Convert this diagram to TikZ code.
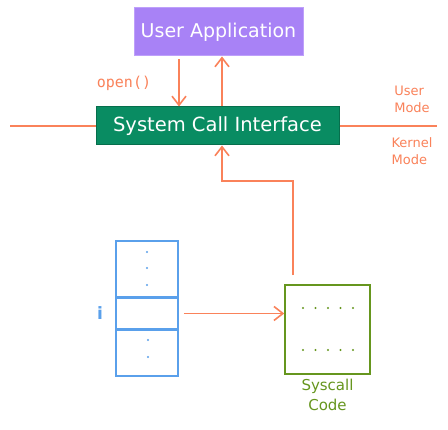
\documentclass[tikz,border=0pt]{standalone}
\usepackage{fontspec}
\setmainfont{DejaVu Sans}
\newfontfamily\codefont{DejaVu Sans Mono}
\usepackage{tikz}
\usetikzlibrary{
  arrows.meta,%
  calc,%
  positioning
}
\definecolor{wireorange}{RGB}{250,130,90}
\definecolor{apppurple}{RGB}{168,130,246}
\definecolor{appedge}{RGB}{190,160,250}
\definecolor{scigreen}{RGB}{9,140,98}
\definecolor{sciedge}{RGB}{6,110,76}
\definecolor{tableblue}{RGB}{90,160,235}
\definecolor{codegreen}{RGB}{102,150,30}
\tikzset{>={Straight Barb[length=9pt,width=14pt]}}
\tikzset{x=1pt, y=-1pt}
\tikzset{
  wire/.style={draw=wireorange, line width=1.6pt},
  appbox/.style={fill=apppurple, draw=appedge, line width=1pt,
    minimum width=169pt, minimum height=48pt, text=white,
    font=\fontsize{19}{22}\selectfont},
  scibox/.style={fill=scigreen, draw=sciedge, line width=1pt,
    minimum width=243pt, minimum height=38pt, text=white,
    font=\fontsize{19.5}{22}\selectfont},
  cellbox/.style={draw=tableblue, line width=1.5pt, minimum width=62pt,
    inner sep=0pt},
  codebox/.style={draw=codegreen, line width=1.5pt, minimum width=85pt,
    minimum height=89pt, inner sep=0pt},
  wirelabel/.style={text=wireorange, font=\fontsize{13}{17}\selectfont,
    align=left},
}

\begin{document}
\begin{tikzpicture}
  \fill[white] (0,0) rectangle (448,430);
  \useasboundingbox (0,0) rectangle (448,430);
  % user and kernel side
  \node[appbox] (app) at (218.5,32) {User Application};
  \node[scibox] (sci) at (217.5,126) {System Call Interface};
  \coordinate (leftend) at (10,126);
  \coordinate (rightend) at (437,126);
  \draw[wire] (leftend) -- (sci.west);
  \draw[wire] (sci.east) -- (rightend);
  \draw[wire,->] ([xshift=-39.5pt,yshift=-3pt]app.south)
    -- ([xshift=-39.5pt]app.south |- sci.north);
  \draw[wire,->] ([xshift=4.5pt]sci.north) -- ([xshift=4.5pt]sci.north |- app.south);
  \node[wirelabel, font=\codefont\fontsize{15}{17}\selectfont] (openlbl) at (124,83) {open()};
  \node[wirelabel] (usermode) at (412,99) {User\\Mode};
  \node[wirelabel] (kernelmode) at (412,151) {Kernel\\Mode};
  % syscall table
  \node[cellbox, minimum height=56pt] (tabtop) at (147,269) {};
  \node[cellbox, minimum height=30pt, below=0pt of tabtop] (tabmid) {};
  \node[cellbox, minimum height=46pt, below=0pt of tabmid] (tabbot) {};
  \foreach \y in {252,268,285}
    \fill[tableblue] (147,\y) circle (1.1pt);
  \foreach \y in {340,357}
    \fill[tableblue] (148,\y) circle (1.1pt);
  \node[text=tableblue, font=\bfseries\fontsize{17}{20}\selectfont] (idx) at (100,313) {i};
  % syscall code
  \node[codebox] (code) at (327.5,329.5) {};
  \foreach \x in {303,315.5,328,340.5,353}
    \foreach \y in {308,350}
      \fill[codegreen] (\x,\y) circle (1.1pt);
  \node[text=codegreen, align=center, font=\fontsize{15}{20}\selectfont,
    below=1pt of code] (codelbl) {Syscall\\Code};
  \draw[wire,->,shorten <=5pt] (tabmid.east) -- (tabmid.east -| code.west);
  \coordinate (bend) at (222,181);
  \draw[wire,->] ([xshift=-34.5pt,yshift=9pt]code.north) |- (bend)
    -- ([xshift=4.5pt]sci.south);
\end{tikzpicture}
\end{document}
